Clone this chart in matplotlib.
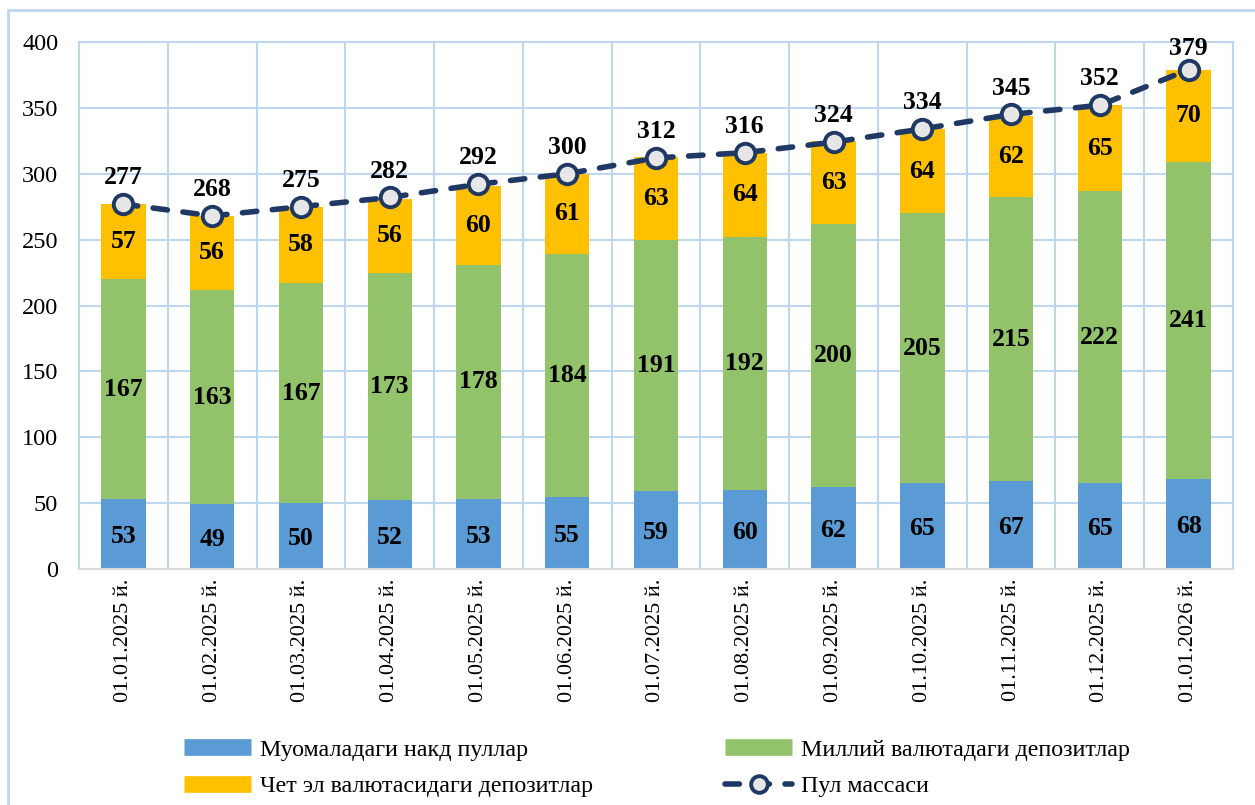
import matplotlib
matplotlib.use("Agg")
import matplotlib.pyplot as plt
from matplotlib.lines import Line2D
import numpy as np

dates = ["01.01.2025 й.", "01.02.2025 й.", "01.03.2025 й.", "01.04.2025 й.",
         "01.05.2025 й.", "01.06.2025 й.", "01.07.2025 й.", "01.08.2025 й.",
         "01.09.2025 й.", "01.10.2025 й.", "01.11.2025 й.", "01.12.2025 й.",
         "01.01.2026 й."]
cash = [53, 49, 50, 52, 53, 55, 59, 60, 62, 65, 67, 65, 68]
national = [167, 163, 167, 173, 178, 184, 191, 192, 200, 205, 215, 222, 241]
foreign = [57, 56, 58, 56, 60, 61, 63, 64, 63, 64, 62, 65, 70]
total = [277, 268, 275, 282, 292, 300, 312, 316, 324, 334, 345, 352, 379]

names = ["Муомаладаги накд пуллар", "Миллий валютадаги депозитлар",
         "Чет эл валютасидаги депозитлар", "Пул массаси"]

c_cash = "#5B9BD5"
c_nat = "#92C36B"
c_for = "#FFC000"
c_line = "#1F3864"
c_grid = "#BDD7EE"

plt.rcParams['font.family'] = ['Liberation Serif', 'DejaVu Serif']

fig = plt.figure(figsize=(12.55, 8.05), dpi=100)
# outer chart border (left and top edges visible)
fig.add_artist(Line2D([8/1255, 8/1255], [0, 1 - 10/805], transform=fig.transFigure,
                      color=c_grid, lw=2))
fig.add_artist(Line2D([8/1255, 1], [1 - 10/805, 1 - 10/805], transform=fig.transFigure,
                      color=c_grid, lw=2))
ax = fig.add_axes([79/1255, 1 - 569/805, (1233 - 79)/1255, (569 - 42)/805])

x = np.arange(len(dates))
w = 0.5
cash_a = np.array(cash)
nat_a = np.array(national)
for_a = np.array(foreign)
ax.bar(x, cash_a, w, color=c_cash, zorder=2)
ax.bar(x, nat_a, w, bottom=cash_a, color=c_nat, zorder=2)
ax.bar(x, for_a, w, bottom=cash_a + nat_a, color=c_for, zorder=2)
dash = (0, (2.6, 2.8))
ax.plot(x, total, color=c_line, lw=4, ls=dash, dash_capstyle='round', marker='o',
        markersize=14, markerfacecolor="#E7E6E6", markeredgecolor=c_line,
        markeredgewidth=2.8, zorder=4)

fs_lab = 18.5
lab_kw = dict(ha='center', va='center', fontsize=fs_lab, fontweight='bold', color='black', zorder=5)
for i in range(len(dates)):
    ax.text(x[i], cash_a[i] / 2 - 2, str(cash[i]), **lab_kw)
    ax.text(x[i], cash_a[i] + nat_a[i] / 2, str(national[i]), **lab_kw)
    ax.text(x[i], cash_a[i] + nat_a[i] + for_a[i] / 2, str(foreign[i]), **lab_kw)
    off = 15 if i == len(dates) - 1 else 19
    ax.annotate(str(total[i]), (x[i], total[i]), xytext=(0, off),
                textcoords='offset points', ha='center', va='center',
                fontsize=fs_lab, fontweight='bold', zorder=5)

ax.set_xlim(-0.5, len(dates) - 0.5)
ax.set_ylim(0, 400)
ax.set_yticks(np.arange(0, 401, 50))
ax.set_xticks(x)
ax.set_xticklabels(dates, rotation=90, fontsize=16)
ax.tick_params(axis='y', labelsize=17.5, length=0, pad=15)
ax.tick_params(axis='x', length=0, pad=7)
ax.set_xticks(np.arange(-0.5, len(dates), 1), minor=True)
ax.grid(False)
ax.grid(axis='y', which='major', color=c_grid, lw=1.5, zorder=0)
ax.grid(axis='x', which='minor', color=c_grid, lw=1.5, zorder=0)
ax.tick_params(which='minor', length=0)
for s in ['left', 'right', 'top']:
    ax.spines[s].set_color(c_grid)
    ax.spines[s].set_linewidth(1.5)
ax.spines['bottom'].set_color('#D9D9D9')
ax.spines['bottom'].set_linewidth(1.5)
ax.set_axisbelow(True)

handles = [
    Line2D([], [], color=c_cash, lw=12, solid_capstyle='butt'),
    Line2D([], [], color=c_for, lw=12, solid_capstyle='butt'),
    Line2D([], [], color=c_nat, lw=12, solid_capstyle='butt'),
    Line2D([], [], color=c_line, lw=4, ls=dash, dash_capstyle='round', marker='o',
           markersize=12, markerfacecolor="#E7E6E6", markeredgecolor=c_line,
           markeredgewidth=2.8),
]
labels = [names[0], names[2], names[1], names[3]]
fig.legend(handles, labels, ncol=2, loc='center', bbox_to_anchor=(657/1255, 1 - 768/805),
           frameon=False, fontsize=17.3, handlelength=2.8, handletextpad=0.35,
           columnspacing=5.5, labelspacing=0.6)

fig.savefig("out.png", dpi=100)
